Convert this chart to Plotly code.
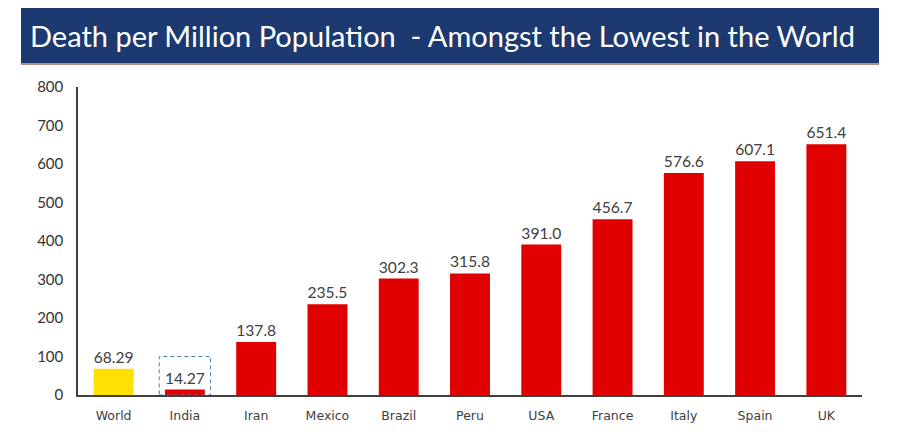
import plotly.graph_objects as go

countries = ["World", "India", "Iran", "Mexico", "Brazil", "Peru", "USA", "France", "Italy", "Spain", "UK"]
deaths_per_million = [68.29, 14.27, 137.8, 235.5, 302.3, 315.8, 391.0, 456.7, 576.6, 607.1, 651.4]
value_labels = ["68.29", "14.27", "137.8", "235.5", "302.3", "315.8", "391.0", "456.7", "576.6", "607.1", "651.4"]
y_ticks = [0, 100, 200, 300, 400, 500, 600, 700, 800]

RED = "#E00000"
YELLOW = "#FFE000"
bar_colors = [YELLOW if c == "World" else RED for c in countries]

OFF = 8  # page body margin
W, H = 909 - 2 * OFF, 444 - 2 * OFF
L, R, T, B = 78 - OFF, 862 - OFF, 87 - OFF, 395 - OFF
pw, ph = R - L, B - T


def px(x):
    return (x - OFF - L) / pw


def py(y):
    return (B - (y - OFF)) / ph


fig = go.Figure()
fig.add_trace(go.Bar(
    x=countries,
    y=deaths_per_million,
    marker=dict(color=bar_colors, line=dict(width=0)),
    text=value_labels,
    textposition="outside",
    cliponaxis=False,
    textfont=dict(family="Lato, Carlito, sans-serif", size=16, color="#404040"),
    width=0.56,
))

# dashed highlight box around India
india_idx = countries.index("India")
fig.add_shape(type="rect", xref="x", yref="y",
              x0=india_idx - 0.36, x1=india_idx + 0.36, y0=0, y1=100,
              line=dict(color="#4F7FAF", width=1, dash="4px,3px"),
              fillcolor="rgba(0,0,0,0)", layer="above")

# title banner
fig.add_shape(type="rect", xref="paper", yref="paper",
              x0=px(21), x1=px(879), y0=py(63), y1=py(6),
              fillcolor="#1C3A70", line=dict(width=0), layer="above")
fig.add_shape(type="line", xref="paper", yref="paper",
              x0=px(21), x1=px(879), y0=py(64), y1=py(64),
              line=dict(color="#9A6A55", width=1.5))
fig.add_annotation(xref="paper", yref="paper", x=px(28), y=py(35),
                   xanchor="left", yanchor="middle", showarrow=False,
                   text="Death per Million Population  - Amongst the Lowest in the World",
                   font=dict(family="Lato, Carlito, sans-serif", size=29, color="white"))

fig.update_layout(
    width=W, height=H,
    margin=dict(l=L, r=W - R, t=T, b=H - B, pad=0),
    paper_bgcolor="white", plot_bgcolor="white",
    showlegend=False,
    bargap=0.44,
    font=dict(family="DejaVu Sans, sans-serif", color="#404040"),
    xaxis=dict(
        showline=True, linecolor="#404040", linewidth=1.5,
        showgrid=False, ticks="outside", ticklen=8, tickcolor="rgba(0,0,0,0)",
        tickfont=dict(family="DejaVu Sans, sans-serif", size=12.5, color="#404040"),
    ),
    yaxis=dict(
        range=[0, 800], tickvals=y_ticks,
        showline=True, linecolor="#404040", linewidth=1.5,
        showgrid=False, zeroline=False,
        ticks="outside", ticklen=10, tickcolor="rgba(0,0,0,0)",
        tickfont=dict(family="Lato, sans-serif", size=15, color="#333333"),
    ),
)

fig.write_html("out.html")
